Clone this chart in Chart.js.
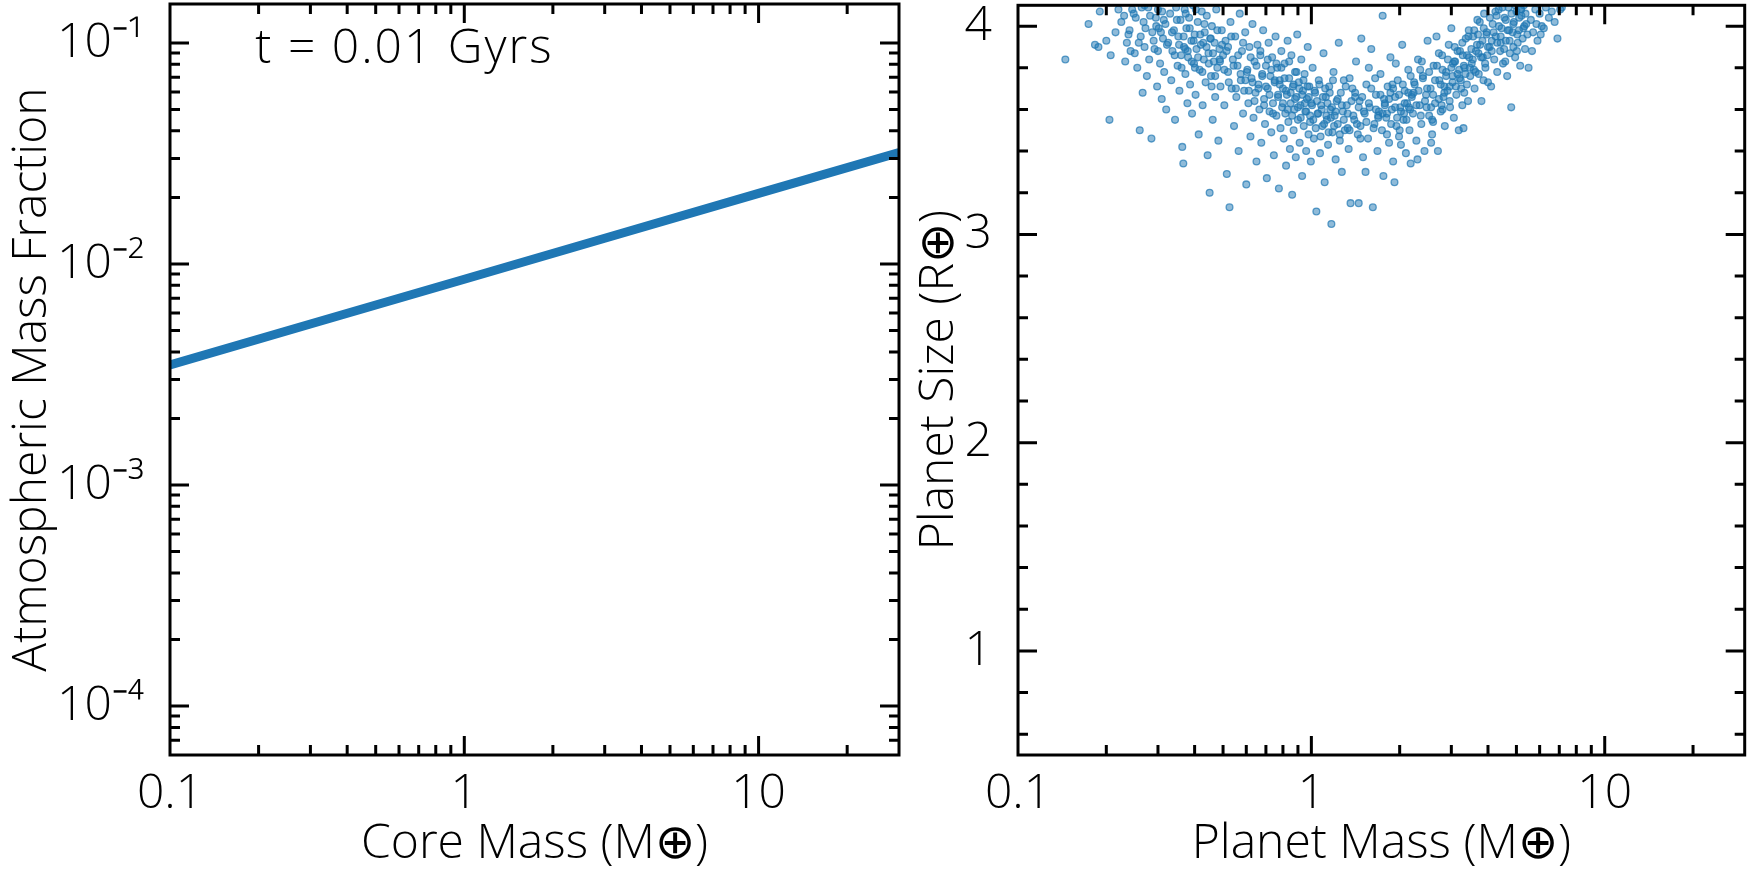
<!DOCTYPE html>
<html>
<head>
<meta charset="utf-8">
<script src="https://cdn.jsdelivr.net/npm/chart.js@4.4.1/dist/chart.umd.min.js"></script>
<style>
  html, body { margin: 0; padding: 0; background: #fff; }
  #wrap { position: relative; width: 1750px; height: 871px; }
  canvas { position: absolute; top: 0; }
  #coreChart { left: 0; }
  #planetChart { left: 910px; }
</style>
</head>
<body>
<div id="wrap">
  <canvas id="coreChart" width="910" height="871"></canvas>
  <canvas id="planetChart" width="840" height="871"></canvas>
</div>
<script>
// left panel: atmosphere fraction against core mass, at t = 0.01 Gyr
const coreMass = [0.1, 0.3, 1, 3, 10, 30];
const atmFraction = [0.00349, 0.00535, 0.00853, 0.01307, 0.02085, 0.0319];
const ageLabel = 't = 0.01 Gyrs';

const massTicks = [0.1, 1, 10];
const massTickLabels = ['0.1', '1', '10'];
const fracTicks = [1e-4, 1e-3, 1e-2, 1e-1];
const fracTickLabels = ['10⁻⁴', '10⁻³', '10⁻²', '10⁻¹'];
const sizeTicks = [1, 2, 3, 4];
const sizeTickLabels = ['1', '2', '3', '4'];

// right panel: planet mass / size scatter
const planetMass = [
  0.145, 0.174, 0.183, 0.188, 0.205, 0.207, 0.19, 0.215, 0.22, 0.2,
  0.23, 0.235, 0.24, 0.245, 0.25, 0.255, 0.26, 0.262, 0.268, 0.27,
  0.275, 0.278, 0.28, 0.285, 0.287, 0.29, 0.295, 0.298, 0.30, 0.302,
  0.305, 0.309, 0.31, 0.312, 0.315, 0.318, 0.32, 0.232, 0.252, 0.266,
  0.325, 0.33, 0.333, 0.336, 0.34, 0.343, 0.346, 0.35, 0.352, 0.355,
  0.358, 0.36, 0.363, 0.366, 0.368, 0.37, 0.372, 0.375, 0.378, 0.38,
  0.383, 0.386, 0.39, 0.392, 0.395, 0.398, 0.40, 0.403, 0.406, 0.41,
  0.413, 0.416, 0.42, 0.423, 0.426, 0.43, 0.433, 0.436, 0.44, 0.443,
  0.446, 0.45, 0.452, 0.455, 0.458, 0.461, 0.465, 0.468, 0.47, 0.474,
  0.478, 0.482, 0.486, 0.49, 0.495,
  0.50, 0.505, 0.51, 0.515, 0.52, 0.526, 0.53, 0.535, 0.54, 0.545,
  0.55, 0.555, 0.56, 0.565, 0.57, 0.575, 0.58, 0.585, 0.59, 0.595,
  0.60, 0.605, 0.61, 0.615, 0.62, 0.625, 0.63, 0.635, 0.64, 0.645,
  0.65, 0.655, 0.66, 0.665, 0.67, 0.675, 0.68, 0.685, 0.69, 0.695,
  0.70, 0.705, 0.71, 0.715, 0.72, 0.725, 0.73, 0.735, 0.74, 0.745,
  0.75, 0.755, 0.76, 0.765, 0.77, 0.775, 0.78, 0.785, 0.79, 0.795,
  0.80, 0.805, 0.81, 0.815, 0.82, 0.825, 0.83, 0.835, 0.84, 0.845,
  0.85, 0.855, 0.86, 0.865, 0.87, 0.875, 0.88, 0.885, 0.89, 0.895,
  0.90, 0.906, 0.912, 0.918, 0.924, 0.93, 0.936, 0.942, 0.948, 0.954,
  0.96, 0.966, 0.972, 0.978, 0.984, 0.99, 0.996, 1.0, 1.01, 1.02,
  1.03, 1.04, 1.05, 1.06, 1.07, 1.08, 1.09, 1.10, 1.11, 1.12,
  1.13, 1.14, 1.15, 1.16, 1.17, 1.18, 1.19, 1.20, 1.21, 1.22,
  1.23, 1.24, 1.25, 1.26, 1.27, 1.28, 1.29, 1.30,
  1.32, 1.34, 1.36, 1.38, 1.40, 1.42, 1.44, 1.45, 1.46, 1.48,
  1.50, 1.52, 1.54, 1.56, 1.58, 1.60, 1.62, 1.64, 1.66, 1.68,
  1.70, 1.72, 1.74, 1.75, 1.76, 1.78, 1.80, 1.82, 1.84, 1.86,
  1.88, 1.90, 1.92, 1.93, 1.95, 1.97, 1.99, 2.01, 2.04, 2.06,
  2.08, 2.10, 2.12, 2.14, 2.16, 2.18, 2.20, 1.35, 1.47, 1.57,
  1.69, 1.81, 1.94, 2.07, 1.33, 1.41, 1.53, 1.65, 1.77, 1.89,
  2.02, 2.15,
  2.22, 2.25, 2.28, 2.31, 2.34, 2.37, 2.40, 2.43, 2.46, 2.49,
  2.52, 2.55, 2.58, 2.61, 2.64, 2.67, 2.70, 2.73, 2.76, 2.79,
  2.82, 2.85, 2.88, 2.91, 2.94, 2.97, 3.00, 3.03, 3.06, 3.09,
  3.12, 3.15, 3.18, 3.21, 3.24, 3.27, 3.30, 3.33, 3.36, 3.39,
  3.42, 3.45, 3.48, 2.23, 2.35, 2.47, 2.60, 2.72, 2.84, 2.96,
  3.08, 3.20, 3.32, 3.44, 2.30, 2.56, 2.80, 3.04, 3.28,
  3.52, 3.56, 3.60, 3.64, 3.68, 3.72, 3.76, 3.80, 3.84, 3.88,
  3.92, 3.96, 4.00, 4.05, 4.10, 4.15, 4.20, 4.25, 4.30, 4.35,
  4.40, 4.45, 4.50, 4.55, 4.60, 4.65, 4.70, 4.75, 4.80, 4.85,
  4.90, 4.95, 5.00, 5.05, 5.10, 5.15, 5.20, 5.25, 5.30, 5.35,
  5.40, 5.45, 3.58, 3.70, 3.86, 3.98, 4.12, 4.28, 4.42, 4.58,
  4.72, 4.88, 5.02, 5.18, 5.32,
  5.50, 5.60, 5.70, 5.80, 5.90, 6.00, 6.10, 6.20, 6.30, 6.45,
  6.60, 6.75, 6.90, 7.05, 7.14, 5.65, 5.85, 6.05,
  // denser core of the band
  0.335, 0.342, 0.348, 0.354, 0.361, 0.367, 0.373, 0.379, 0.385, 0.391,
  0.397, 0.404, 0.411, 0.418, 0.425, 0.432, 0.439, 0.447, 0.454, 0.462,
  0.47, 0.478, 0.487, 0.496, 0.505, 0.514, 0.523, 0.533, 0.543, 0.553,
  0.563, 0.574, 0.585, 0.596, 0.372, 0.401, 0.428, 0.457, 0.488, 0.52,
  0.603, 0.612, 0.621, 0.63, 0.64, 0.65, 0.66, 0.67, 0.68, 0.69,
  0.70, 0.71, 0.72, 0.73, 0.74, 0.75, 0.76, 0.77, 0.78, 0.79,
  0.80, 0.81, 0.82, 0.83, 0.84, 0.85, 0.86, 0.87, 0.88, 0.89,
  0.90, 0.91, 0.92, 0.93, 0.94, 0.95, 0.96, 0.97, 0.98, 0.99,
  1.005, 1.015, 1.025, 1.035, 1.045, 1.055, 1.065, 1.075, 1.085, 1.095,
  1.105, 1.115, 1.125, 1.135, 1.145, 1.155, 1.165, 1.175, 1.185, 1.195,
  1.21, 1.23, 1.25, 1.27, 1.29, 1.31, 1.33, 1.35, 1.37, 1.39,
  1.41, 1.43, 1.45, 1.47, 1.49, 1.51, 1.54, 1.57, 1.60, 1.63,
  1.66, 1.69, 1.72, 1.75, 1.78,
  1.81, 1.84, 1.87, 1.90, 1.93, 1.96, 1.99, 2.02, 2.05, 2.08,
  2.11, 2.14, 2.17, 2.20, 2.24, 2.28, 2.32, 2.36, 2.40, 2.44,
  2.48, 2.52, 2.56, 2.60, 2.64, 2.68, 2.72, 2.76, 2.80, 2.84,
  2.88, 2.92, 2.96, 3.00, 1.86, 2.00, 2.18, 2.38, 2.58, 2.78,
  3.03, 3.07, 3.11, 3.15, 3.19, 3.23, 3.27, 3.31, 3.35, 3.39,
  3.43, 3.47, 3.51, 3.55, 3.59, 3.63, 3.67, 3.71, 3.75, 3.79,
  3.83, 3.87, 3.91, 3.95, 4.00, 4.06, 4.12, 4.18, 4.24, 4.30,
  4.36, 4.42, 4.48, 4.54, 4.60, 4.67, 4.74, 4.81, 4.88, 4.95,
  5.03, 5.11, 5.19, 5.28, 5.37,
  0.225, 0.238, 0.248, 0.258, 0.264, 0.272, 0.282, 0.292, 0.3, 0.307,
  0.314, 0.322, 0.242, 0.27, 0.296
];
const planetSize = [
  3.84, 4.01, 3.91, 3.90, 3.55, 3.86, 4.07, 3.97, 4.08, 3.93,
  4.05, 3.92, 3.98, 4.08, 3.87, 3.80, 3.50, 3.95, 4.02, 3.90,
  3.76, 4.09, 3.84, 3.46, 3.97, 3.93, 4.04, 3.71, 3.88, 3.99,
  3.82, 3.65, 4.07, 3.94, 3.78, 4.01, 3.60, 3.83, 4.04, 3.68,
  3.92, 4.06, 3.74, 3.88, 3.98, 3.55, 4.09, 3.81, 3.95, 3.69,
  4.03, 3.86, 3.42, 3.34, 3.90, 4.08, 3.77, 3.99, 3.63, 3.85,
  4.04, 3.72, 3.93, 3.58, 4.10, 3.82, 3.96, 3.67, 3.89, 4.02,
  3.48, 3.79, 3.91, 4.07, 3.62, 3.84, 3.97, 3.73, 4.05, 3.38,
  3.87, 3.20, 3.94, 3.76, 4.00, 3.55, 3.83, 3.92, 3.66, 4.08,
  3.80, 3.45, 3.89, 3.71, 3.98,
  3.86, 3.62, 3.93, 3.29, 3.78, 3.13, 4.02, 3.70, 3.84, 3.52,
  3.95, 3.66, 3.81, 3.40, 4.06, 3.74, 3.88, 3.58, 3.69, 3.97,
  3.24, 3.79, 3.63, 3.90, 3.47, 3.75, 4.01, 3.56, 3.83, 3.68,
  3.35, 3.91, 3.72, 3.60, 3.86, 3.44, 3.77, 3.98, 3.65, 3.53,
  3.81, 3.27, 3.70, 3.92, 3.59, 3.76, 3.49, 3.85, 3.63, 3.38,
  3.73, 3.95, 3.57, 3.80, 3.67, 3.22, 3.74, 3.51, 3.88, 3.61,
  3.70, 3.46, 3.82, 3.58, 3.33, 3.67, 3.93, 3.54, 3.75, 3.41,
  3.63, 3.86, 3.19, 3.71, 3.50, 3.60, 3.78, 3.37, 3.66, 3.96,
  3.55, 3.73, 3.44, 3.62, 3.84, 3.28, 3.69, 3.52, 3.77, 3.59,
  3.40, 3.65, 3.90, 3.48, 3.71, 3.57, 3.35, 3.63, 3.80, 3.46,
  3.68, 3.11, 3.58, 3.74, 3.39, 3.62, 3.52, 3.87, 3.25, 3.66,
  3.55, 3.43, 3.71, 3.60, 3.05, 3.49, 3.78, 3.57, 3.36, 3.64,
  3.53, 3.92, 3.45, 3.68, 3.30, 3.59, 3.74, 3.50,
  3.62, 3.41, 3.15, 3.70, 3.55, 3.83, 3.48, 3.15, 3.64, 3.94,
  3.37, 3.58, 3.72, 3.46, 3.61, 3.89, 3.13, 3.53, 3.67, 3.40,
  3.59, 3.77, 3.50, 4.05, 3.28, 3.63, 3.56, 3.71, 3.44, 3.85,
  3.60, 3.35, 3.25, 3.66, 3.52, 3.74, 3.47, 3.61, 3.91, 3.55,
  3.69, 3.39, 3.63, 3.79, 3.50, 3.34, 3.67, 3.75, 3.52, 3.80,
  3.57, 3.48, 3.82, 3.58, 3.51, 3.66, 3.30, 3.75, 3.65, 3.72,
  3.43, 3.61,
  3.58, 3.72, 3.45, 3.84, 3.62, 3.53, 3.76, 3.40, 3.67, 3.93,
  3.57, 3.70, 3.48, 3.81, 3.63, 3.95, 3.40, 3.74, 3.59, 3.86,
  3.66, 3.52, 3.78, 3.69, 3.91, 3.61, 3.99, 3.73, 3.56, 3.83,
  3.67, 3.77, 3.50, 3.88, 3.70, 3.62, 3.51, 3.80, 3.94, 3.72,
  3.64, 3.85, 3.76, 3.68, 3.79, 3.61, 3.54, 3.87, 3.71, 3.64,
  3.90, 3.75, 3.68, 3.98, 3.36, 3.44, 3.60, 3.82, 3.86,
  3.82, 3.95, 3.70, 3.88, 4.03, 3.77, 3.91, 3.64, 3.85, 4.06,
  3.80, 3.97, 3.73, 3.90, 3.71, 4.01, 3.84, 3.95, 3.78, 4.08,
  3.88, 3.99, 3.82, 4.04, 3.93, 3.76, 4.09, 3.87, 3.61, 3.97,
  4.02, 3.85, 4.07, 3.92, 3.98, 3.81, 4.05, 3.94, 4.10, 3.89,
  4.01, 3.96, 3.79, 3.96, 3.74, 3.86, 3.93, 4.05, 3.92, 3.83,
  3.98, 3.90, 3.88, 4.08, 4.00,
  3.80, 4.03, 3.97, 4.08, 3.93, 4.06, 4.00, 3.99, 4.09, 4.04,
  4.07, 4.02, 3.94, 4.08, 4.09, 3.88, 4.01, 3.96,
  // denser core of the band
  3.97, 3.86, 4.03, 3.91, 3.80, 3.95, 4.06, 3.88, 3.99, 3.83,
  3.93, 4.08, 3.85, 3.96, 3.78, 4.01, 3.90, 3.82, 3.94, 3.87,
  3.76, 3.98, 3.84, 3.91, 3.79, 3.88, 3.73, 3.95, 3.81, 3.70,
  3.86, 3.77, 3.92, 3.74, 3.89, 3.80, 3.92, 3.71, 3.83, 3.90,
  3.78, 3.69, 3.85, 3.73, 3.64, 3.81, 3.70, 3.88, 3.76, 3.62,
  3.71, 3.84, 3.67, 3.79, 3.58, 3.74, 3.82, 3.66, 3.72, 3.80,
  3.63, 3.75, 3.69, 3.60, 3.83, 3.68, 3.57, 3.72, 3.65, 3.78,
  3.61, 3.70, 3.56, 3.67, 3.74, 3.63, 3.59, 3.71, 3.66, 3.54,
  3.62, 3.55, 3.69, 3.51, 3.64, 3.58, 3.72, 3.47, 3.60, 3.66,
  3.53, 3.70, 3.57, 3.63, 3.49, 3.68, 3.56, 3.61, 3.74, 3.52,
  3.59, 3.65, 3.48, 3.62, 3.55, 3.71, 3.58, 3.50, 3.64, 3.57,
  3.68, 3.53, 3.61, 3.46, 3.66, 3.59, 3.54, 3.63, 3.70, 3.51,
  3.60, 3.56, 3.67, 3.58, 3.62,
  3.58, 3.65, 3.53, 3.70, 3.61, 3.56, 3.67, 3.59, 3.72, 3.63,
  3.55, 3.68, 3.60, 3.66, 3.73, 3.62, 3.69, 3.57, 3.75, 3.64,
  3.70, 3.78, 3.61, 3.67, 3.74, 3.81, 3.65, 3.72, 3.79, 3.68,
  3.76, 3.84, 3.71, 3.80, 3.68, 3.50, 3.76, 3.83, 3.55, 3.62,
  3.76, 3.83, 3.71, 3.88, 3.79, 3.74, 3.92, 3.81, 3.77, 3.86,
  3.95, 3.80, 3.89, 3.84, 3.98, 3.78, 3.91, 3.87, 4.02, 3.85,
  3.93, 3.99, 3.82, 3.96, 3.90, 4.04, 3.88, 3.97, 4.07, 3.92,
  4.00, 3.95, 4.09, 3.89, 4.03, 3.98, 3.93, 4.06, 4.01, 4.10,
  3.96, 4.04, 4.08, 3.99, 4.06,
  4.02, 3.96, 4.06, 3.92, 4.09, 3.99, 4.05, 3.89, 4.08, 3.97,
  4.03, 3.91, 3.88, 4.10, 4.00
];

const BLUE = '#1f77b4';
const FONT = "'Open Sans', 'DejaVu Sans', sans-serif";
const textFont = { family: FONT, size: 48, weight: '300' };
const MAJOR_LEN = 19;
const MINOR_LEN = 10;

// tick marks at 1..9 x 10^n
function logMarks(min, max) {
  const marks = [];
  for (let e = Math.floor(Math.log10(min)); e <= Math.ceil(Math.log10(max)); e++) {
    for (let m = 1; m <= 9; m++) {
      const v = m * Math.pow(10, e);
      if (v >= min && v <= max) marks.push({ value: v, major: m === 1 });
    }
  }
  return marks;
}

function linMarks(min, max, step) {
  const marks = [];
  for (let v = Math.ceil(min / step) * step; v <= max + 1e-9; v += step) {
    const r = Math.round(v * 1000) / 1000;
    marks.push({ value: r, major: Math.abs(r - Math.round(r)) < 1e-6 });
  }
  return marks;
}

// box round the plot with inward ticks on all four sides
function frameTicks(xMarks, yMarks) {
  return {
    id: 'frameTicks',
    afterDatasetsDraw(chart) {
      const { ctx, chartArea: a, scales: { x, y } } = chart;
      ctx.save();
      ctx.strokeStyle = '#000';
      ctx.lineWidth = 3;
      ctx.beginPath();
      xMarks.forEach(m => {
        const px = x.getPixelForValue(m.value);
        if (px <= a.left + 2 || px >= a.right - 2) return;
        const len = m.major ? MAJOR_LEN : MINOR_LEN;
        ctx.moveTo(px, a.bottom); ctx.lineTo(px, a.bottom - len);
        ctx.moveTo(px, a.top); ctx.lineTo(px, a.top + len);
      });
      yMarks.forEach(m => {
        const py = y.getPixelForValue(m.value);
        if (py <= a.top + 2 || py >= a.bottom - 2) return;
        const len = m.major ? MAJOR_LEN : MINOR_LEN;
        ctx.moveTo(a.left, py); ctx.lineTo(a.left + len, py);
        ctx.moveTo(a.right, py); ctx.lineTo(a.right - len, py);
      });
      ctx.stroke();
      ctx.strokeRect(a.left, a.top, a.right - a.left, a.bottom - a.top);
      ctx.restore();
    }
  };
}

const ageText = {
  id: 'ageText',
  afterDatasetsDraw(chart) {
    const { ctx, scales: { x, y } } = chart;
    ctx.save();
    ctx.font = `300 48px ${FONT}`;
    ctx.letterSpacing = '2px';
    ctx.fillStyle = '#000';
    ctx.textBaseline = 'middle';
    ctx.textAlign = 'left';
    ctx.fillText(ageLabel, x.getPixelForValue(0.195), y.getPixelForValue(0.094));
    ctx.restore();
  }
};

function axis(type, min, max, tickVals, tickLabels, titleText, fitFn) {
  return {
    type: type,
    min: min,
    max: max,
    grid: { display: false },
    border: { display: false },
    afterBuildTicks: s => { s.ticks = tickVals.map(v => ({ value: v })); },
    afterFit: s => {
      fitFn(s);
      // keep edge labels from shrinking the plot box
      s.paddingTop = 0; s.paddingBottom = 0; s.paddingLeft = 0; s.paddingRight = 0;
    },
    ticks: {
      autoSkip: false,
      maxRotation: 0,
      color: '#000',
      font: textFont,
      callback: (v, i) => tickLabels[i]
    },
    title: { display: true, text: titleText, color: '#000', font: textFont }
  };
}

Chart.defaults.animation = false;

// left panel
new Chart(document.getElementById('coreChart'), {
  type: 'line',
  data: {
    datasets: [{
      data: coreMass.map((m, i) => ({ x: m, y: atmFraction[i] })),
      borderColor: BLUE,
      borderWidth: 9,
      pointRadius: 0,
      tension: 0,
      fill: false,
      clip: 0
    }]
  },
  options: {
    responsive: false,
    layout: { padding: { left: 0, right: 11, top: 4, bottom: 0 } },
    plugins: { legend: { display: false }, tooltip: { enabled: false } },
    scales: {
      x: (() => {
        const a = axis('logarithmic', 0.1, 30, massTicks, massTickLabels, 'Core Mass (M⊕)', s => { s.height = 116; });
        a.ticks.padding = 3;
        a.title.padding = { top: 0, bottom: -2 };
        return a;
      })(),
      y: (() => {
        const a = axis('logarithmic', 6e-5, 0.15, fracTicks, fracTickLabels, 'Atmospheric Mass Fraction', s => { s.width = 170; });
        a.ticks.padding = 18;
        a.title.padding = { top: 4, bottom: 0 };
        return a;
      })()
    }
  },
  plugins: [frameTicks(logMarks(0.1, 30), logMarks(6e-5, 0.15)), ageText]
});

// right panel
new Chart(document.getElementById('planetChart'), {
  type: 'scatter',
  data: {
    datasets: [{
      data: planetMass.map((m, i) => ({ x: m, y: planetSize[i] })),
      backgroundColor: 'rgba(31,119,180,0.5)',
      borderColor: 'rgba(31,119,180,0.7)',
      borderWidth: 1.3,
      pointRadius: 3.4,
      clip: 0
    }]
  },
  options: {
    responsive: false,
    layout: { padding: { left: 0, right: 3, top: 4, bottom: 0 } },
    plugins: { legend: { display: false }, tooltip: { enabled: false } },
    scales: {
      x: (() => {
        const a = axis('logarithmic', 0.1, 30, massTicks, massTickLabels, 'Planet Mass (M⊕)', s => { s.height = 116; });
        a.ticks.padding = 3;
        a.title.padding = { top: 0, bottom: -2 };
        return a;
      })(),
      y: (() => {
        const a = axis('linear', 0.5, 4.1, sizeTicks, sizeTickLabels, 'Planet Size (R⊕)', s => { s.width = 108; });
        a.ticks.padding = 18;
        a.title.padding = { top: 1, bottom: 0 };
        return a;
      })()
    }
  },
  plugins: [frameTicks(logMarks(0.1, 30), linMarks(0.5, 4.1, 0.2))]
});
</script>
</body>
</html>
